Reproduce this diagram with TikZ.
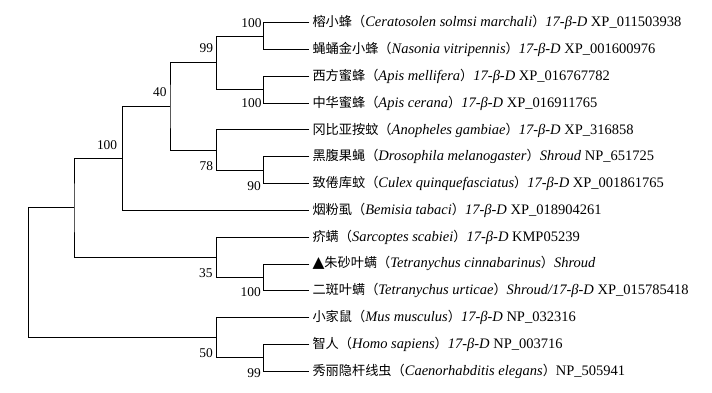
\documentclass[tikz,border=0pt]{standalone}
\usepackage{fontspec}
\setmainfont{Liberation Serif}
\newfontfamily\zhfont[Scale=0.91]{Noto Sans CJK SC}
\newfontfamily\symfont{DejaVu Sans}
\newcommand\zh[1]{{\zhfont #1}}
\newcommand\genebd{\textit{17-β-D}}
\begin{document}
\begin{tikzpicture}[x=1pt,y=-1pt,
  br/.style={line width=0.8pt},
  leaf/.style={anchor=west,inner xsep=3pt,inner ysep=0pt,font=\fontsize{14.5}{16}\selectfont},
  bs/.style={anchor=east,inner sep=0pt,font=\fontsize{13.4}{15}\selectfont}]
\useasboundingbox (0,0) rectangle (712,393);
% leaf ends
\coordinate (e1) at (309.3,22.7);
\coordinate (e2) at (309.3,49.5);
\coordinate (e3) at (309.3,76.3);
\coordinate (e4) at (309.3,103.1);
\coordinate (e5) at (309.3,129.9);
\coordinate (e6) at (309.3,156.7);
\coordinate (e7) at (309.3,183.5);
\coordinate (e8) at (309.3,210.3);
\coordinate (e9) at (309.3,237.1);
\coordinate (e10) at (309.3,263.9);
\coordinate (e11) at (309.3,290.7);
\coordinate (e12) at (309.3,317.5);
\coordinate (e13) at (309.3,344.3);
\coordinate (e14) at (309.3,371.1);
% internal nodes
\coordinate (A) at (263.3,36.1);
\coordinate (B) at (263.3,89.7);
\coordinate (C) at (216.7,62.9);
\coordinate (D) at (263.3,170.1);
\coordinate (E) at (216.7,150.0);
\coordinate (F) at (170.0,106.5);
\coordinate (G) at (122.7,158.4);
\coordinate (H) at (263.3,277.3);
\coordinate (I) at (216.7,257.2);
\coordinate (J) at (74.0,207.8);
\coordinate (K) at (263.3,357.7);
\coordinate (L) at (216.7,337.6);
\coordinate (R) at (28.3,272.7);
% branches
\draw[br] (e1) -| (A) |- (e2);
\draw[br] (e3) -| (B) |- (e4);
\draw[br] (A) -| (C) |- (B);
\draw[br] (e6) -| (D) |- (e7);
\draw[br] (e5) -| (E) |- (D);
\draw[br] (C) -| (F) |- (E);
\draw[br] (F) -| (G) |- (e8);
\draw[br] (e10) -| (H) |- (e11);
\draw[br] (e9) -| (I) |- (H);
\draw[br] (G) -| (J) |- (I);
\draw[br] (e13) -| (K) |- (e14);
\draw[br] (e12) -| (L) |- (K);
\draw[br] (J) -| (R) |- (L);
% leaf labels
\node[leaf] (t1) at (e1) {\zh{榕小蜂（}\textit{Ceratosolen solmsi marchali}\zh{）}\genebd{} XP\_011503938};
\node[leaf] (t2) at (e2) {\zh{蝇蛹金小蜂（}\textit{Nasonia vitripennis}\zh{）}\genebd{} XP\_001600976};
\node[leaf] (t3) at (e3) {\zh{西方蜜蜂（}\textit{Apis mellifera}\zh{）}\genebd{} XP\_016767782};
\node[leaf] (t4) at (e4) {\zh{中华蜜蜂（}\textit{Apis cerana}\zh{）}\genebd{} XP\_016911765};
\node[leaf] (t5) at (e5) {\zh{冈比亚按蚊（}\textit{Anopheles gambiae}\zh{）}\genebd{} XP\_316858};
\node[leaf] (t6) at (e6) {\zh{黑腹果蝇（}\textit{Drosophila melanogaster}\zh{）}\textit{Shroud} NP\_651725};
\node[leaf] (t7) at (e7) {\zh{致倦库蚊（}\textit{Culex quinquefasciatus}\zh{）}\genebd{} XP\_001861765};
\node[leaf] (t8) at (e8) {\zh{烟粉虱（}\textit{Bemisia tabaci}\zh{）}\genebd{} XP\_018904261};
\node[leaf] (t9) at (e9) {\zh{疥螨（}\textit{Sarcoptes scabiei}\zh{）}\genebd{} KMP05239};
\node[leaf] (t10) at (e10) {{\symfont\fontsize{15.5}{16}\selectfont ▲}\zh{朱砂叶螨（}\textit{Tetranychus cinnabarinus}\zh{）}\textit{Shroud}};
\node[leaf] (t11) at (e11) {\zh{二斑叶螨（}\textit{Tetranychus urticae}\zh{）}\textit{Shroud/17-β-D} XP\_015785418};
\node[leaf] (t12) at (e12) {\zh{小家鼠（}\textit{Mus musculus}\zh{）}\genebd{} NP\_032316};
\node[leaf] (t13) at (e13) {\zh{智人（}\textit{Homo sapiens}\zh{）}\genebd{} NP\_003716};
\node[leaf] (t14) at (e14) {\zh{秀丽隐杆线虫（}\textit{Caenorhabditis elegans}\zh{）}NP\_505941};
% bootstrap values
\node[bs] (bA) at (261.7,23.3) {100};
\node[bs] (bC) at (213.3,48.3) {99};
\node[bs] (bB) at (261.7,103.0) {100};
\node[bs] (bF) at (166.7,91.7) {40};
\node[bs] (bG) at (117.3,145.0) {100};
\node[bs] (bE) at (213.3,165.7) {78};
\node[bs] (bD) at (261.0,185.7) {90};
\node[bs] (bI) at (212.7,272.7) {35};
\node[bs] (bH) at (261.0,291.7) {100};
\node[bs] (bL) at (213.0,353.3) {50};
\node[bs] (bK) at (261.0,372.7) {99};
\end{tikzpicture}
\end{document}
